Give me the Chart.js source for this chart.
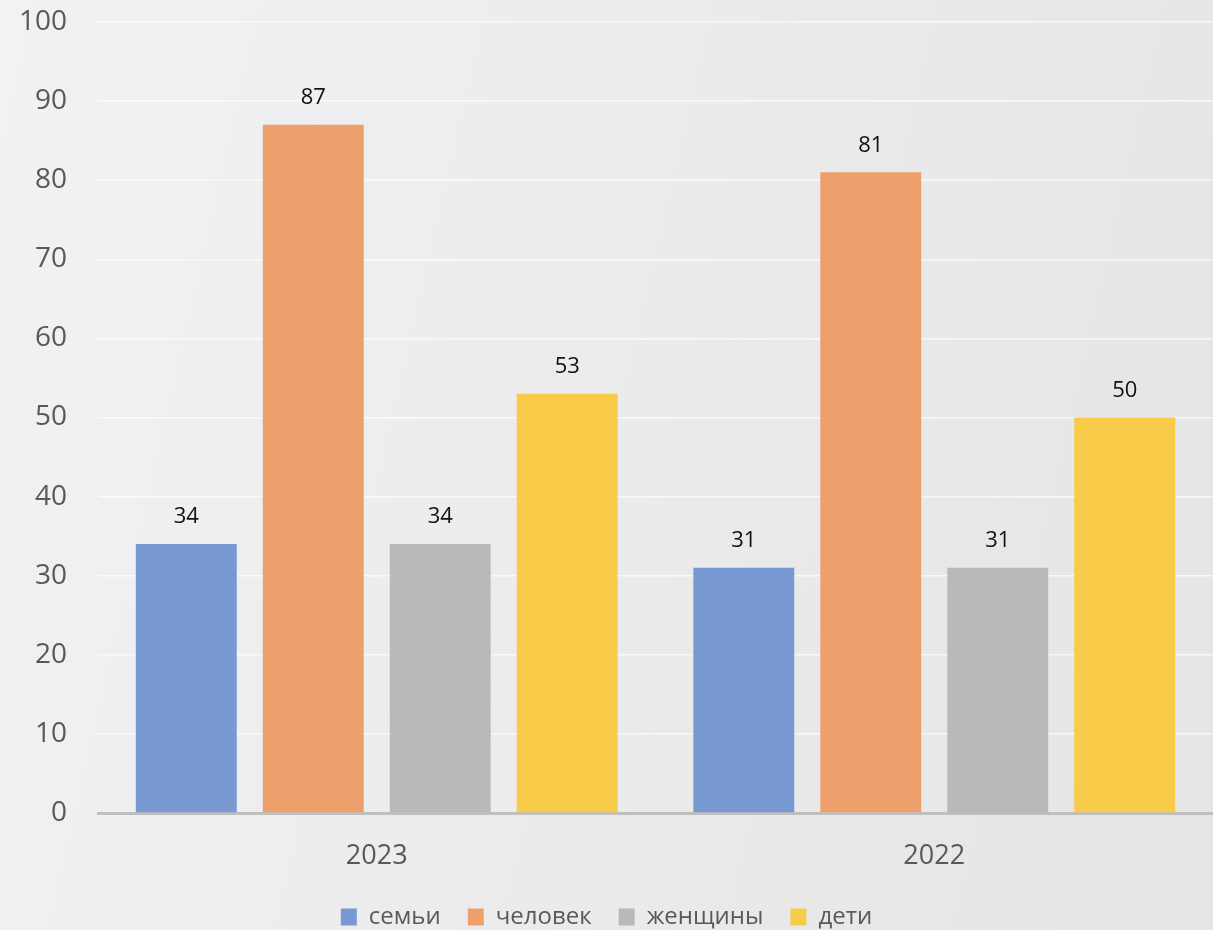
<!DOCTYPE html>
<html>
<head>
<meta charset="utf-8">
<script src="https://cdn.jsdelivr.net/npm/chart.js@4.4.1/dist/chart.umd.min.js"></script>
<style>
  html, body { margin: 0; padding: 0; background: #eeeeee; }
  #wrap { width: 1213px; height: 930px; }
</style>
</head>
<body>
<div id="wrap"><canvas id="c" width="1213" height="930"></canvas></div>
<script>
const categories = ['2023', '2022'];
const seriesNames = ['семьи', 'человек', 'женщины', 'дети'];
const seriesFamilies = [34, 31];
const seriesPeople = [87, 81];
const seriesWomen = [34, 31];
const seriesChildren = [53, 50];
const seriesColors = ['#7899d1', '#eda06b', '#b9b9b9', '#f8cc48'];
const yTicks = [0, 10, 20, 30, 40, 50, 60, 70, 80, 90, 100];

const FONT = "'Open Sans', 'Noto Sans', sans-serif";

const bgPlugin = {
  id: 'bg',
  beforeDraw(chart) {
    const ctx = chart.ctx;
    const w = chart.width, h = chart.height;
    const g = ctx.createLinearGradient(0, 0, w, h * 0.3);
    g.addColorStop(0, '#f1f2f4');
    g.addColorStop(0.5, '#ececed');
    g.addColorStop(1, '#e6e6e6');
    ctx.save();
    ctx.fillStyle = g;
    ctx.fillRect(0, 0, w, h);
    ctx.restore();
  }
};

const labelPlugin = {
  id: 'barLabels',
  afterDatasetsDraw(chart) {
    const ctx = chart.ctx;
    ctx.save();
    ctx.font = "22px " + FONT;
    ctx.fillStyle = '#111111';
    ctx.textAlign = 'center';
    ctx.textBaseline = 'middle';
    chart.data.datasets.forEach((ds, i) => {
      const meta = chart.getDatasetMeta(i);
      meta.data.forEach((bar, j) => {
        ctx.fillText(String(ds.data[j]), bar.x, bar.y - 27);
      });
    });
    ctx.restore();
  }
};

const allSeries = [seriesFamilies, seriesPeople, seriesWomen, seriesChildren];

new Chart(document.getElementById('c'), {
  type: 'bar',
  data: {
    labels: categories,
    datasets: allSeries.map((d, i) => ({
      label: seriesNames[i],
      data: d,
      backgroundColor: seriesColors[i],
      borderWidth: 0,
      categoryPercentage: 0.911,
      barPercentage: 0.795
    }))
  },
  options: {
    responsive: false,
    devicePixelRatio: 1,
    animation: false,
    layout: { padding: { top: 22, right: 0, left: 0, bottom: -9 } },
    plugins: {
      legend: {
        position: 'bottom',
        labels: {
          boxWidth: 16,
          boxHeight: 17,
          padding: 27,
          color: '#595959',
          font: { family: FONT, size: 24 }
        }
      },
      tooltip: { enabled: false }
    },
    scales: {
      x: {
        grid: { display: false, drawTicks: false },
        border: { display: true, color: '#bfbfbf', width: 3 },
        ticks: {
          color: '#595959',
          padding: 27,
          font: { family: FONT, size: 27 }
        },
        afterFit(scale) { scale.height = 65; }
      },
      y: {
        min: 0,
        max: 100,
        afterBuildTicks(scale) { scale.ticks = yTicks.map(v => ({ value: v })); },
        grid: {
          color: 'rgba(255,255,255,0.7)',
          lineWidth: 1.5,
          drawTicks: false
        },
        border: { display: false },
        ticks: {
          color: '#595959',
          padding: 31,
          font: { family: FONT, size: 28 }
        },
        afterFit(scale) { scale.width = 98; scale.paddingTop = 0; scale.paddingBottom = 0; }
      }
    }
  },
  plugins: [bgPlugin, labelPlugin]
});
</script>
</body>
</html>
